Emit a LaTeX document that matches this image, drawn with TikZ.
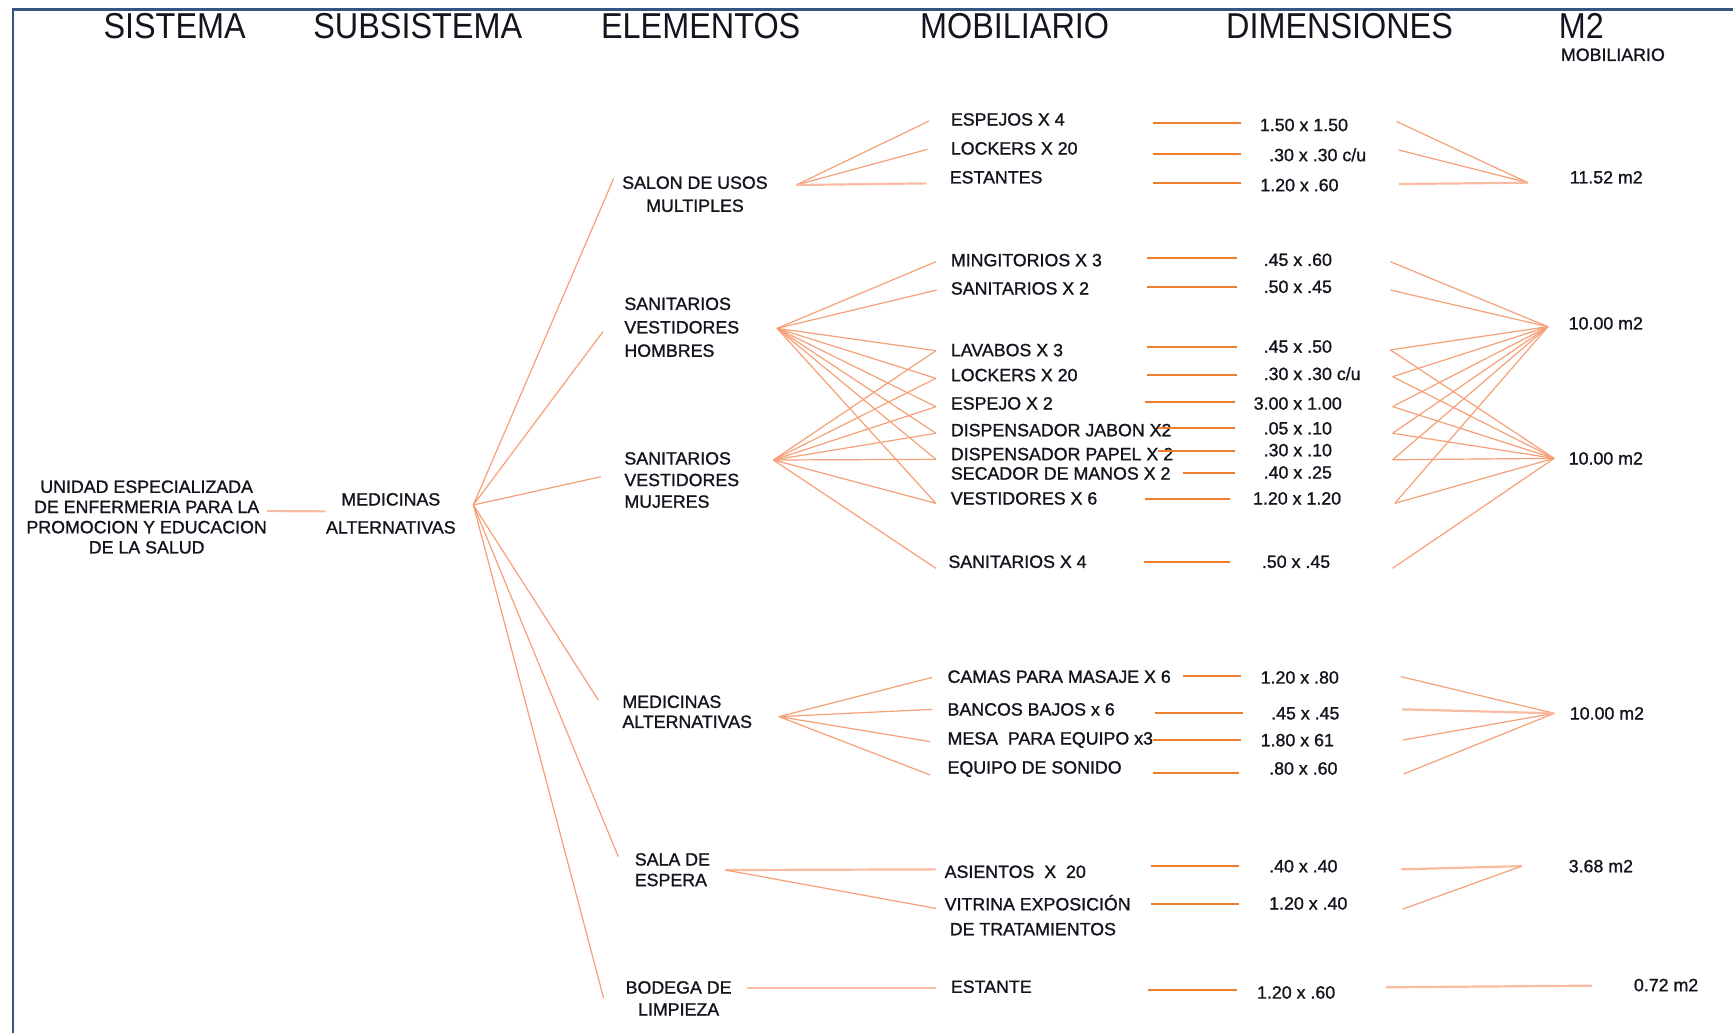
\documentclass[tikz,border=0pt]{standalone}
\usepackage{fontspec}
\setmainfont{Liberation Sans}
\newfontfamily\headfont[FakeStretch=0.9]{Liberation Sans}
\newfontfamily\bodyfont[FakeBold=1.2]{Liberation Sans}
\definecolor{framec}{RGB}{55,85,130}
\definecolor{fanc}{RGB}{245,160,118}
\definecolor{softc}{RGB}{248,188,162}
\definecolor{dimc}{RGB}{238,125,45}
\definecolor{inkc}{RGB}{20,20,30}
\begin{document}
\begin{tikzpicture}[x=0.5526pt, y=-0.5526pt,
  every node/.style={inner sep=0pt, text=inkc},
  head/.style={font=\headfont\fontsize{18}{20}\selectfont, text depth=0pt},
  txt/.style={font=\bodyfont\fontsize{8.9}{10.7}\selectfont, anchor=west, text depth=0pt},
  blk/.style={font=\bodyfont\fontsize{8.9}{#1}\selectfont, align=left},
  cblk/.style={font=\bodyfont\fontsize{8.9}{#1}\selectfont, align=center},
  fan/.style={draw=fanc, line width=0.6pt},
  soft/.style={draw=softc, line width=1.1pt},
  dimline/.style={draw=dimc, line width=1.1pt},
  frame/.style={draw=framec, line width=1.2pt}
]
\useasboundingbox (0,0) rectangle (1568,935);

% frame
\draw[frame] (11.5,935) -- (11.5,8.5) -- (1568,8.5);

% column headings
\node[head] (hSis) at (158,23.8) {SISTEMA};
\node[head] (hSub) at (378,23.8) {SUBSISTEMA};
\node[head] (hEle) at (634,23.8) {ELEMENTOS};
\node[head] (hMob) at (918,23.8) {MOBILIARIO};
\node[head] (hDim) at (1212,23.8) {DIMENSIONES};
\node[head, anchor=west] (hM2) at (1410,23.8) {M2};
\node[txt] (hM2b) at (1412,49.5) {MOBILIARIO};

% system and subsystem
\node[cblk=10.1pt] (sys) at (132.7,467.8) {UNIDAD ESPECIALIZADA\\DE ENFERMERIA PARA LA\\PROMOCION Y EDUCACION\\DE LA SALUD};
\node[cblk=14pt] (sub) at (353.6,464.5) {MEDICINAS\\ALTERNATIVAS};
\draw[soft] ([yshift=3pt]sys.east) -- ([yshift=1pt]sub.west);

% elements
\node[cblk=11.5pt] (eSalon) at (628.8,175.7) {SALON DE USOS\\MULTIPLES};
\node[blk=11.7pt, anchor=west] (eHom) at (564.6,296.1) {SANITARIOS\\VESTIDORES\\HOMBRES};
\node[blk=10.8pt, anchor=west] (eMuj) at (564.6,434.3) {SANITARIOS\\VESTIDORES\\MUJERES};
\node[blk=10pt, anchor=west] (eMed) at (562.8,644) {MEDICINAS\\ALTERNATIVAS};
\node[blk=10.3pt, anchor=west] (eSala) at (574,786.9) {SALA DE\\ESPERA};
\node[cblk=11pt] (eBod) at (614,903.3) {BODEGA DE\\LIMPIEZA};

% subsystem fan
\coordinate (hubSub) at (428.3,456.9);
\coordinate (kSalon) at (555.3,161.4);
\coordinate (kHom) at (545.6,300);
\coordinate (kMuj) at (543.8,431.3);
\coordinate (kMed) at (541.4,633.4);
\coordinate (kSala) at (559.4,775.1);
\coordinate (kBod) at (546.2,903.3);
\foreach \k in {kSalon,kHom,kMuj,kMed,kSala,kBod} \draw[fan] (hubSub) -- (\k);

% furniture
\node[txt] (mEsp) at (860,108) {ESPEJOS X 4};
\node[txt] (mLoc1) at (860,134.2) {LOCKERS X 20};
\node[txt] (mEst) at (859,160.4) {ESTANTES};
\node[txt] (mMin) at (860,235.3) {MINGITORIOS X 3};
\node[txt] (mSan2) at (860,260.9) {SANITARIOS X 2};
\node[txt] (mLav) at (860,316.7) {LAVABOS X 3};
\node[txt] (mLoc2) at (860,339.3) {LOCKERS X 20};
\node[txt] (mEspj) at (860,364.9) {ESPEJO X 2};
\node[txt] (mJab) at (860,389.1) {DISPENSADOR JABON X2};
\node[txt] (mPap) at (860,410.8) {DISPENSADOR PAPEL X 2};
\node[txt] (mSec) at (860,428.3) {SECADOR DE MANOS X 2};
\node[txt] (mVes) at (860,450.9) {VESTIDORES X 6};
\node[txt] (mSan4) at (857.8,508.2) {SANITARIOS X 4};
\node[txt] (mCam) at (857,612.2) {CAMAS PARA MASAJE X 6};
\node[txt] (mBan) at (857,641.8) {BANCOS BAJOS x 6};
\node[txt] (mMes) at (857,668) {MESA\ \ PARA EQUIPO x3};
\node[txt] (mEqu) at (857,694.3) {EQUIPO DE SONIDO};
\node[txt] (mAsi) at (854.4,788.7) {ASIENTOS\ \ X\ \ 20};
\node[txt] (mVit) at (854.4,816.7) {VITRINA EXPOSICIÓN};
\node[txt] (mVit2) at (859,840.6) {DE TRATAMIENTOS};
\node[txt] (mEstante) at (860,892.7) {ESTANTE};

% element hubs and furniture ends
\coordinate (hSalon) at (720.4,167.4);
\coordinate (hHom) at (703.1,297.1);
\coordinate (hMuj) at (699.7,416.2);
\coordinate (hMed) at (704.8,648.4);
\coordinate (hSala) at (656.4,787.2);
\coordinate (hBod) at (676,893.6);

\coordinate (cEsp) at (840.6,109.5);
\coordinate (cLoc1) at (839.2,135.1);
\coordinate (cEst) at (838.1,165.9);
\coordinate (cMin) at (846.8,236.8);
\coordinate (cSan2) at (847.5,262.4);
\coordinate (cLav) at (846.8,317.3);
\coordinate (cLoc2) at (846.8,342.3);
\coordinate (cEspj) at (846.8,368);
\coordinate (cJab) at (846.8,392);
\coordinate (cPap) at (846.8,415.6);
\coordinate (cVes) at (846.8,455.4);
\coordinate (cSan4) at (846.8,514.2);
\coordinate (cCam) at (843.4,612.9);
\coordinate (cBan) at (843.4,641.8);
\coordinate (cMes) at (841.6,671);
\coordinate (cEqu) at (841.6,701.2);
\coordinate (cAsi) at (846.8,786.6);
\coordinate (cVit) at (846.8,821.9);
\coordinate (cEstante) at (846.8,893.6);

\foreach \c in {cEsp,cLoc1} \draw[fan] (hSalon) -- (\c);
\draw[soft] (hSalon) -- (cEst);
\foreach \c in {cMin,cSan2,cLav,cLoc2,cEspj,cJab,cPap,cVes} \draw[fan] (hHom) -- (\c);
\foreach \c in {cLav,cLoc2,cEspj,cJab,cPap,cVes,cSan4} \draw[fan] (hMuj) -- (\c);
\foreach \c in {cCam,cBan,cMes,cEqu} \draw[fan] (hMed) -- (\c);
\draw[soft] (hSala) -- (cAsi);
\draw[fan] (hSala) -- (cVit);
\draw[soft] (hBod) -- (cEstante);

% dimension leaders
\foreach \a/\b/\y [count=\i] in {
  1043/1123/111.6, 1043/1123/139.6, 1043/1123/165.9,
  1038/1119.5/233.7, 1038/1119.5/259.5, 1038/1119.5/313.6, 1038/1119.5/339,
  1036/1117/364, 1048/1117/387.5, 1048/1117/407.8, 1070/1117/427.7,
  1036/1113/451.8, 1035/1113/508.2,
  1070/1123/611.6, 1044.6/1125/645.4, 1042.8/1123/669.6, 1042.8/1121.3/699.7,
  1041/1121.3/783.6, 1041/1121.3/817.9, 1039/1119.5/895.8} {
  \coordinate (la\i) at (\a,\y);
  \coordinate (lb\i) at (\b,\y);
  \draw[dimline] (la\i) -- (lb\i);
}

% dimensions
\node[txt] (d1) at (1139.6,113) {1.50 x 1.50};
\node[txt] (d2) at (1148,140) {.30 x .30 c/u};
\node[txt] (d3) at (1140,167.4) {1.20 x .60};
\node[txt] (d4) at (1143,235) {.45 x .60};
\node[txt] (d5) at (1143,259.4) {.50 x .45};
\node[txt] (d6) at (1143,313.5) {.45 x .50};
\node[txt] (d7) at (1143,338) {.30 x .30 c/u};
\node[txt] (d8) at (1134,365) {3.00 x 1.00};
\node[txt] (d9) at (1143,387.5) {.05 x .10};
\node[txt] (d10) at (1143,407.2) {.30 x .10};
\node[txt] (d11) at (1143,427.4) {.40 x .25};
\node[txt] (d12) at (1133.4,450.9) {1.20 x 1.20};
\node[txt] (d13) at (1141.4,508.2) {.50 x .45};
\node[txt] (d14) at (1140.3,612.9) {1.20 x .80};
\node[txt] (d15) at (1149.8,645.4) {.45 x .45};
\node[txt] (d16) at (1140.3,669.6) {1.80 x 61};
\node[txt] (d17) at (1148,695.2) {.80 x .60};
\node[txt] (d18) at (1148,783.6) {.40 x .40};
\node[txt] (d19) at (1148,817.3) {1.20 x .40};
\node[txt] (d20) at (1137,897.9) {1.20 x .60};

% areas
\node[txt] (a1) at (1420,160.4) {11.52 m2};
\node[txt] (a2) at (1419,292.5) {10.00 m2};
\node[txt] (a3) at (1419,414.7) {10.00 m2};
\node[txt] (a4) at (1420,645.4) {10.00 m2};
\node[txt] (a5) at (1419,783.6) {3.68 m2};
\node[txt] (a6) at (1478,891.2) {0.72 m2};

% area hubs and leader starts
\coordinate (g1) at (1382.5,165.3);
\coordinate (g2) at (1400.6,295.6);
\coordinate (g3) at (1406.2,414.7);
\coordinate (g4) at (1406.2,645.4);
\coordinate (g5) at (1377,783.6);
\coordinate (g6) at (1440.2,891.8);

\coordinate (r1) at (1263.7,110);
\coordinate (r2) at (1265.5,135.7);
\coordinate (r3) at (1266,166.5);
\coordinate (r4) at (1258,236.8);
\coordinate (r5) at (1258,262.4);
\coordinate (r6) at (1258,316.6);
\coordinate (r7) at (1260,340.8);
\coordinate (r8) at (1260,367.9);
\coordinate (r9) at (1260,392);
\coordinate (r10) at (1260,416);
\coordinate (r12) at (1262,455.4);
\coordinate (r13) at (1260,514.2);
\coordinate (r14) at (1267.5,612.2);
\coordinate (r15) at (1268.6,641.8);
\coordinate (r16) at (1269.3,669.6);
\coordinate (r17) at (1270,700.3);
\coordinate (r18) at (1267.5,786.6);
\coordinate (r19) at (1269.3,822.5);
\coordinate (r20) at (1253.9,893.3);

\foreach \r in {r1,r2} \draw[fan] (\r) -- (g1);
\draw[soft] (r3) -- (g1);
\foreach \r in {r4,r5,r6,r7,r8,r9,r10,r12} \draw[fan] (\r) -- (g2);
\foreach \r in {r6,r7,r8,r9,r10,r12,r13} \draw[fan] (\r) -- (g3);
\foreach \r in {r14,r16,r17} \draw[fan] (\r) -- (g4);
\draw[soft] (r15) -- (g4);
\draw[soft] (r18) -- (g5);
\draw[fan] (r19) -- (g5);
\draw[soft] (r20) -- (g6);
\end{tikzpicture}
\end{document}
